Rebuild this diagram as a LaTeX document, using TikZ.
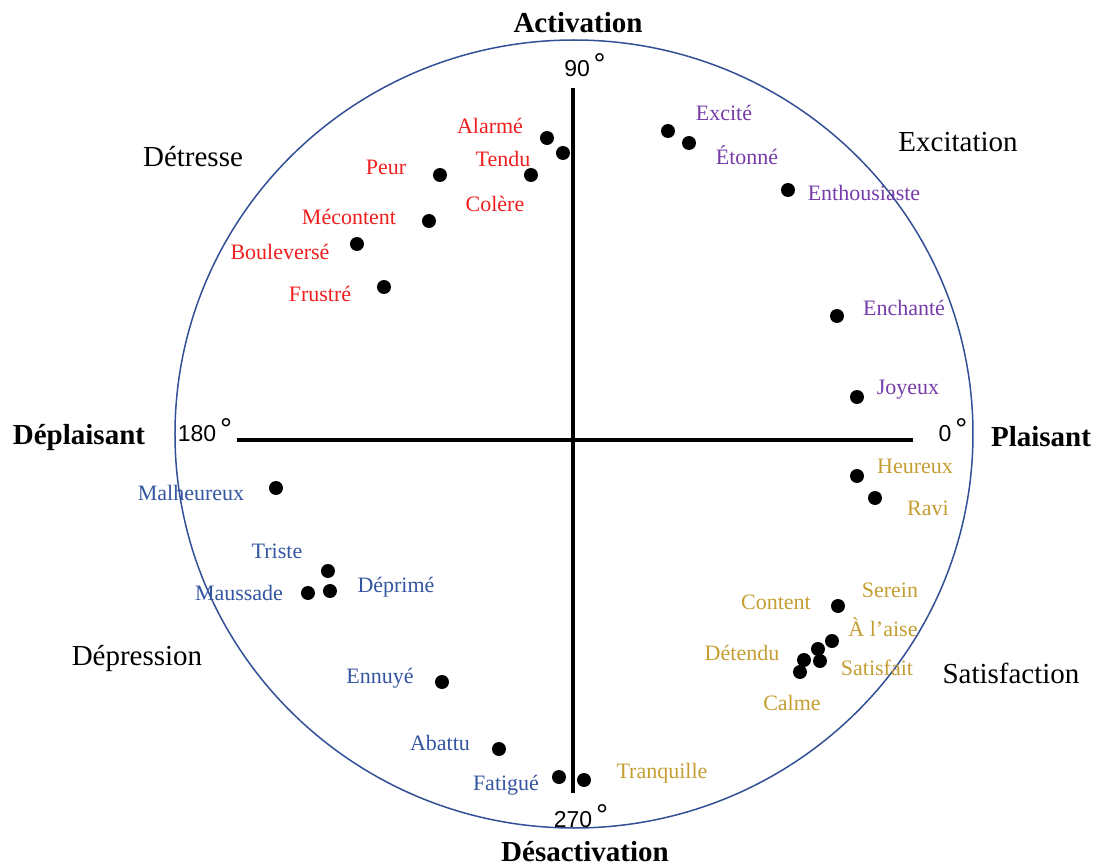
\documentclass[tikz,border=0pt]{standalone}
\usepackage{fontspec}
\setmainfont{Liberation Serif}
\newfontfamily\degfont{Liberation Sans}
\usepackage{tikz}
\usepackage{xcolor}
\usetikzlibrary{positioning}

\definecolor{redE}{RGB}{240,30,30}
\definecolor{purpleE}{RGB}{118,60,170}
\definecolor{goldE}{RGB}{197,158,50}
\definecolor{blueE}{RGB}{52,86,160}
\definecolor{rimE}{RGB}{50,80,150}

\newcommand{\degsign}{\,\raisebox{0.1em}{\fontsize{30}{30}\selectfont °}}

\begin{document}
\begin{tikzpicture}[x=1pt, y=1pt,
    emodot/.style={circle, fill=black, inner sep=0pt, minimum size=14pt},
    emo/.style={inner sep=0pt, font=\fontsize{22}{22}\selectfont},
    pole/.style={inner sep=0pt, font=\fontsize{29}{29}\selectfont\bfseries},
    quad/.style={inner sep=0pt, font=\fontsize{29}{29}\selectfont},
    deg/.style={inner sep=0pt, font=\degfont\fontsize{23}{23}\selectfont},
    axis/.style={line width=4.5pt}]
                        % Page size (origin where the two axes cross)
                        \useasboundingbox (-573,-428) rectangle (523,440);

                        % Outer circle
                        \draw[rimE, line width=1.5pt] (1,6) ellipse [x radius=399, y radius=394];

                        % Axes
                        \coordinate (top) at (0,352);
                        \coordinate (bottom) at (0,-353);
                        \coordinate (left) at (-336,0);
                        \coordinate (right) at (340,0);
                        \draw[axis] (top) -- (bottom);
                        \draw[axis] (left) -- (right);

                        % Degrees
                        \node[deg] (d90) at (12,375) {90\degsign};
                        \node[deg] (d180) at (-368,10) {180\degsign};
                        \node[deg] (d0) at (380,10) {0\degsign};
                        \node[deg] (d270) at (8,-376) {270\degsign};

                        % Poles
                        \node[pole] (activation) at (5,417) {Activation};
                        \node[pole] (desactivation) at (12,-412) {Désactivation};
                        \node[pole] (deplaisant) at (-494,2) {Déplaisant};
                        \node[pole] (plaisant) at (468,3) {Plaisant};

                        % Quadrants
                        \node[quad] (detresse) at (-380,283) {Détresse};
                        \node[quad] (excitation) at (385,298) {Excitation};
                        \node[quad] (depression) at (-436,-219) {Dépression};
                        \node[quad] (satisfaction) at (438,-233) {Satisfaction};

                        % Upper left: red
                        \node[emodot] (alarme) at (-26,302) {};
                        \node[emodot] (tendu) at (-10,287) {};
                        \node[emodot] (peur) at (-133,265) {};
                        \node[emodot] (colere) at (-42,265) {};
                        \node[emodot] (mecontent) at (-144,219) {};
                        \node[emodot] (bouleverse) at (-216,196) {};
                        \node[emodot] (frustre) at (-189,153) {};
                        \node[emo, redE] (alarmeL) at (-83,314) {Alarmé};
                        \node[emo, redE] (tenduL) at (-70,281) {Tendu};
                        \node[emo, redE] (peurL) at (-187,273) {Peur};
                        \node[emo, redE] (colereL) at (-78,236) {Colère};
                        \node[emo, redE] (mecontentL) at (-224,223) {Mécontent};
                        \node[emo, redE] (bouleverseL) at (-293,188) {Bouleversé};
                        \node[emo, redE] (frustreL) at (-253,146) {Frustré};

                        % Upper right: purple
                        \node[emodot] (excite) at (95,309) {};
                        \node[emodot] (etonne) at (116,297) {};
                        \node[emodot] (enthousiaste) at (215,250) {};
                        \node[emodot] (enchante) at (264,124) {};
                        \node[emodot] (joyeux) at (284,43) {};
                        \node[emo, purpleE] (exciteL) at (151,327) {Excité};
                        \node[emo, purpleE] (etonneL) at (174,285) {Étonné};
                        \node[emo, purpleE] (enthousiasteL) at (291,247) {Enthousiaste};
                        \node[emo, purpleE] (enchanteL) at (331,132) {Enchanté};
                        \node[emo, purpleE] (joyeuxL) at (335,50) {Joyeux};

                        % Lower right: gold
                        \node[emodot] (heureux) at (284,-36) {};
                        \node[emodot] (ravi) at (302,-58) {};
                        \node[emodot] (content) at (265,-166) {};
                        \node[emodot] (serein) at (259,-201) {};
                        \node[emodot] (alaise) at (245,-209) {};
                        \node[emodot] (satisfait) at (247,-221) {};
                        \node[emodot] (detendu) at (231,-220) {};
                        \node[emodot] (calme) at (227,-232) {};
                        \node[emodot] (tranquille) at (11,-340) {};
                        \node[emo, goldE] (heureuxL) at (342,-26) {Heureux};
                        \node[emo, goldE] (raviL) at (355,-68) {Ravi};
                        \node[emo, goldE] (sereinL) at (317,-150) {Serein};
                        \node[emo, goldE] (contentL) at (203,-162) {Content};
                        \node[emo, goldE] (alaiseL) at (310,-187) {À l’aise};
                        \node[emo, goldE] (satisfaitL) at (304,-228) {Satisfait};
                        \node[emo, goldE] (detenduL) at (169,-213) {Détendu};
                        \node[emo, goldE] (calmeL) at (219,-263) {Calme};
                        \node[emo, goldE] (tranquilleL) at (89,-333) {Tranquille};

                        % Lower left: blue
                        \node[emodot] (malheureux) at (-297,-48) {};
                        \node[emodot] (triste) at (-245,-131) {};
                        \node[emodot] (maussade) at (-265,-153) {};
                        \node[emodot] (deprime) at (-243,-151) {};
                        \node[emodot] (ennuye) at (-131,-242) {};
                        \node[emodot] (abattu) at (-74,-309) {};
                        \node[emodot] (fatigue) at (-14,-337) {};
                        \node[emo, blueE] (malheureuxL) at (-382,-53) {Malheureux};
                        \node[emo, blueE] (tristeL) at (-296,-111) {Triste};
                        \node[emo, blueE] (maussadeL) at (-334,-153) {Maussade};
                        \node[emo, blueE] (deprimeL) at (-177,-147) {Déprimé};
                        \node[emo, blueE] (ennuyeL) at (-193,-238) {Ennuyé};
                        \node[emo, blueE] (abattuL) at (-133,-303) {Abattu};
                        \node[emo, blueE] (fatigueL) at (-67,-345) {Fatigué};

                    \end{tikzpicture}
\end{document}
